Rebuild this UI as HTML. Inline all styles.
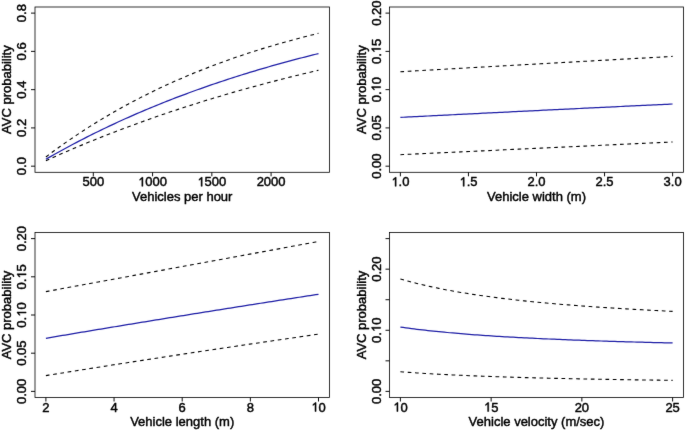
<!DOCTYPE html>
<html><head><meta charset="utf-8"><style>
html,body{margin:0;padding:0;background:#fff;}
body{width:685px;height:430px;overflow:hidden;}
svg{display:block;will-change:transform;}
text{font-family:"Liberation Sans", sans-serif;font-size:13.0px;fill:#000;stroke:#000;stroke-width:0.45px;stroke-linejoin:round;}
.h{fill:none;stroke:none;}
.one{fill:#000;stroke:#000;stroke-width:0.45px;stroke-linejoin:round;vector-effect:non-scaling-stroke;}
</style></head><body>
<svg width="685" height="430" viewBox="0 0 685 430">
<defs><filter id="soft" x="0" y="0" width="685" height="430" filterUnits="userSpaceOnUse" color-interpolation-filters="sRGB"><feConvolveMatrix order="3" kernelMatrix="0.01 0.05 0.01 0.05 0.76 0.05 0.01 0.05 0.01" edgeMode="duplicate"/></filter></defs>
<g filter="url(#soft)">
<rect x="0" y="0" width="685" height="430" fill="#fff"/>
<rect x="35.00" y="7.00" width="294.40" height="165.30" fill="none" stroke="#000" stroke-width="0.8"/>
<line x1="93.31" y1="172.30" x2="93.31" y2="176.30" stroke="#000" stroke-width="0.95"/>
<text x="0" y="0" transform="translate(93.31,186.30)" text-anchor="middle">500</text>
<line x1="152.57" y1="172.30" x2="152.57" y2="176.30" stroke="#000" stroke-width="0.95"/>
<g transform="translate(152.57,186.30)"><text x="0" y="0" text-anchor="middle"><tspan class="h">1</tspan>000</text><path class="one" transform="translate(-14.460,0) scale(0.006348,-0.006348)" d="M583,0 L583,1147 L254,936 L254,1110 Q470,1215 600,1409 L763,1409 L763,0 Z"/></g>
<line x1="211.83" y1="172.30" x2="211.83" y2="176.30" stroke="#000" stroke-width="0.95"/>
<g transform="translate(211.83,186.30)"><text x="0" y="0" text-anchor="middle"><tspan class="h">1</tspan>500</text><path class="one" transform="translate(-14.460,0) scale(0.006348,-0.006348)" d="M583,0 L583,1147 L254,936 L254,1110 Q470,1215 600,1409 L763,1409 L763,0 Z"/></g>
<line x1="271.09" y1="172.30" x2="271.09" y2="176.30" stroke="#000" stroke-width="0.95"/>
<text x="0" y="0" transform="translate(271.09,186.30)" text-anchor="middle">2000</text>
<line x1="31.00" y1="166.18" x2="35.00" y2="166.18" stroke="#000" stroke-width="0.95"/>
<text x="0" y="0" transform="translate(26.10,166.18) rotate(-90)" text-anchor="middle">0.0</text>
<line x1="31.00" y1="127.91" x2="35.00" y2="127.91" stroke="#000" stroke-width="0.95"/>
<text x="0" y="0" transform="translate(26.10,127.91) rotate(-90)" text-anchor="middle">0.2</text>
<line x1="31.00" y1="89.65" x2="35.00" y2="89.65" stroke="#000" stroke-width="0.95"/>
<text x="0" y="0" transform="translate(26.10,89.65) rotate(-90)" text-anchor="middle">0.4</text>
<line x1="31.00" y1="51.39" x2="35.00" y2="51.39" stroke="#000" stroke-width="0.95"/>
<text x="0" y="0" transform="translate(26.10,51.39) rotate(-90)" text-anchor="middle">0.6</text>
<line x1="31.00" y1="13.12" x2="35.00" y2="13.12" stroke="#000" stroke-width="0.95"/>
<text x="0" y="0" transform="translate(26.10,13.12) rotate(-90)" text-anchor="middle">0.8</text>
<text x="0" y="0" transform="translate(182.20,200.60)" text-anchor="middle">Vehicles per hour</text>
<text x="0" y="0" transform="translate(11.00,89.65) rotate(-90)" text-anchor="middle">AVC probability</text>
<path d="M45.90,156.96 L48.66,154.88 L51.41,152.82 L54.16,150.79 L56.92,148.79 L59.67,146.80 L62.42,144.84 L65.18,142.90 L67.93,140.98 L70.68,139.09 L73.44,137.21 L76.19,135.36 L78.95,133.53 L81.70,131.72 L84.45,129.93 L87.21,128.16 L89.96,126.41 L92.71,124.68 L95.47,122.97 L98.22,121.28 L100.97,119.61 L103.73,117.96 L106.48,116.32 L109.23,114.71 L111.99,113.11 L114.74,111.54 L117.49,109.98 L120.25,108.43 L123.00,106.91 L125.75,105.40 L128.51,103.91 L131.26,102.44 L134.01,100.99 L136.77,99.55 L139.52,98.12 L142.27,96.72 L145.03,95.33 L147.78,93.95 L150.54,92.59 L153.29,91.25 L156.04,89.92 L158.80,88.61 L161.55,87.31 L164.30,86.03 L167.06,84.76 L169.81,83.50 L172.56,82.26 L175.32,81.04 L178.07,79.83 L180.82,78.63 L183.58,77.44 L186.33,76.27 L189.08,75.12 L191.84,73.97 L194.59,72.84 L197.34,71.72 L200.10,70.62 L202.85,69.53 L205.60,68.45 L208.36,67.38 L211.11,66.32 L213.86,65.28 L216.62,64.25 L219.37,63.23 L222.13,62.22 L224.88,61.22 L227.63,60.24 L230.39,59.26 L233.14,58.30 L235.89,57.35 L238.65,56.40 L241.40,55.47 L244.15,54.55 L246.91,53.64 L249.66,52.75 L252.41,51.86 L255.17,50.98 L257.92,50.11 L260.67,49.25 L263.43,48.40 L266.18,47.56 L268.93,46.73 L271.69,45.91 L274.44,45.10 L277.19,44.30 L279.95,43.51 L282.70,42.72 L285.45,41.95 L288.21,41.18 L290.96,40.43 L293.72,39.68 L296.47,38.94 L299.22,38.21 L301.98,37.49 L304.73,36.77 L307.48,36.06 L310.24,35.37 L312.99,34.68 L315.74,33.99 L318.50,33.32" fill="none" stroke="#000" stroke-width="1.1" stroke-dasharray="3.7 3.63"/>
<path d="M45.90,160.71 L48.66,159.46 L51.41,158.22 L54.16,156.99 L56.92,155.77 L59.67,154.55 L62.42,153.35 L65.18,152.15 L67.93,150.96 L70.68,149.77 L73.44,148.60 L76.19,147.43 L78.95,146.27 L81.70,145.12 L84.45,143.98 L87.21,142.84 L89.96,141.72 L92.71,140.60 L95.47,139.48 L98.22,138.38 L100.97,137.28 L103.73,136.19 L106.48,135.11 L109.23,134.03 L111.99,132.96 L114.74,131.90 L117.49,130.85 L120.25,129.80 L123.00,128.76 L125.75,127.72 L128.51,126.70 L131.26,125.68 L134.01,124.67 L136.77,123.66 L139.52,122.66 L142.27,121.67 L145.03,120.68 L147.78,119.70 L150.54,118.73 L153.29,117.76 L156.04,116.80 L158.80,115.85 L161.55,114.90 L164.30,113.96 L167.06,113.03 L169.81,112.10 L172.56,111.18 L175.32,110.27 L178.07,109.36 L180.82,108.45 L183.58,107.56 L186.33,106.67 L189.08,105.78 L191.84,104.90 L194.59,104.03 L197.34,103.16 L200.10,102.30 L202.85,101.44 L205.60,100.59 L208.36,99.75 L211.11,98.91 L213.86,98.08 L216.62,97.25 L219.37,96.43 L222.13,95.61 L224.88,94.80 L227.63,94.00 L230.39,93.20 L233.14,92.40 L235.89,91.61 L238.65,90.83 L241.40,90.05 L244.15,89.28 L246.91,88.51 L249.66,87.74 L252.41,86.99 L255.17,86.23 L257.92,85.49 L260.67,84.74 L263.43,84.00 L266.18,83.27 L268.93,82.54 L271.69,81.82 L274.44,81.10 L277.19,80.39 L279.95,79.68 L282.70,78.98 L285.45,78.28 L288.21,77.58 L290.96,76.89 L293.72,76.21 L296.47,75.53 L299.22,74.85 L301.98,74.18 L304.73,73.51 L307.48,72.85 L310.24,72.19 L312.99,71.54 L315.74,70.89 L318.50,70.25" fill="none" stroke="#000" stroke-width="1.1" stroke-dasharray="3.7 3.63"/>
<path d="M45.90,159.23 L48.66,157.65 L51.41,156.09 L54.16,154.53 L56.92,153.00 L59.67,151.47 L62.42,149.96 L65.18,148.46 L67.93,146.98 L70.68,145.50 L73.44,144.04 L76.19,142.59 L78.95,141.16 L81.70,139.73 L84.45,138.32 L87.21,136.92 L89.96,135.54 L92.71,134.16 L95.47,132.80 L98.22,131.45 L100.97,130.11 L103.73,128.78 L106.48,127.46 L109.23,126.15 L111.99,124.86 L114.74,123.58 L117.49,122.30 L120.25,121.04 L123.00,119.79 L125.75,118.55 L128.51,117.32 L131.26,116.10 L134.01,114.89 L136.77,113.69 L139.52,112.50 L142.27,111.33 L145.03,110.16 L147.78,109.00 L150.54,107.85 L153.29,106.71 L156.04,105.58 L158.80,104.47 L161.55,103.36 L164.30,102.26 L167.06,101.17 L169.81,100.09 L172.56,99.01 L175.32,97.95 L178.07,96.90 L180.82,95.85 L183.58,94.82 L186.33,93.79 L189.08,92.77 L191.84,91.76 L194.59,90.76 L197.34,89.77 L200.10,88.79 L202.85,87.81 L205.60,86.84 L208.36,85.89 L211.11,84.94 L213.86,83.99 L216.62,83.06 L219.37,82.13 L222.13,81.22 L224.88,80.31 L227.63,79.40 L230.39,78.51 L233.14,77.62 L235.89,76.74 L238.65,75.87 L241.40,75.00 L244.15,74.15 L246.91,73.30 L249.66,72.46 L252.41,71.62 L255.17,70.79 L257.92,69.97 L260.67,69.16 L263.43,68.35 L266.18,67.55 L268.93,66.76 L271.69,65.97 L274.44,65.19 L277.19,64.42 L279.95,63.65 L282.70,62.89 L285.45,62.14 L288.21,61.39 L290.96,60.65 L293.72,59.91 L296.47,59.19 L299.22,58.46 L301.98,57.75 L304.73,57.04 L307.48,56.34 L310.24,55.64 L312.99,54.95 L315.74,54.26 L318.50,53.58" fill="none" stroke="#1e1ea6" stroke-width="1.25"/>
<rect x="389.50" y="7.00" width="294.00" height="165.30" fill="none" stroke="#000" stroke-width="0.8"/>
<line x1="400.39" y1="172.30" x2="400.39" y2="176.30" stroke="#000" stroke-width="0.95"/>
<g transform="translate(400.39,186.30)"><text x="0" y="0" text-anchor="middle"><tspan class="h">1</tspan>.0</text><path class="one" transform="translate(-9.036,0) scale(0.006348,-0.006348)" d="M583,0 L583,1147 L254,936 L254,1110 Q470,1215 600,1409 L763,1409 L763,0 Z"/></g>
<line x1="468.44" y1="172.30" x2="468.44" y2="176.30" stroke="#000" stroke-width="0.95"/>
<g transform="translate(468.44,186.30)"><text x="0" y="0" text-anchor="middle"><tspan class="h">1</tspan>.5</text><path class="one" transform="translate(-9.036,0) scale(0.006348,-0.006348)" d="M583,0 L583,1147 L254,936 L254,1110 Q470,1215 600,1409 L763,1409 L763,0 Z"/></g>
<line x1="536.50" y1="172.30" x2="536.50" y2="176.30" stroke="#000" stroke-width="0.95"/>
<text x="0" y="0" transform="translate(536.50,186.30)" text-anchor="middle">2.0</text>
<line x1="604.56" y1="172.30" x2="604.56" y2="176.30" stroke="#000" stroke-width="0.95"/>
<text x="0" y="0" transform="translate(604.56,186.30)" text-anchor="middle">2.5</text>
<line x1="672.61" y1="172.30" x2="672.61" y2="176.30" stroke="#000" stroke-width="0.95"/>
<text x="0" y="0" transform="translate(672.61,186.30)" text-anchor="middle">3.0</text>
<line x1="385.50" y1="166.18" x2="389.50" y2="166.18" stroke="#000" stroke-width="0.95"/>
<text x="0" y="0" transform="translate(380.60,166.18) rotate(-90)" text-anchor="middle">0.00</text>
<line x1="385.50" y1="127.91" x2="389.50" y2="127.91" stroke="#000" stroke-width="0.95"/>
<text x="0" y="0" transform="translate(380.60,127.91) rotate(-90)" text-anchor="middle">0.05</text>
<line x1="385.50" y1="89.65" x2="389.50" y2="89.65" stroke="#000" stroke-width="0.95"/>
<g transform="translate(380.60,89.65) rotate(-90)"><text x="0" y="0" text-anchor="middle">0.<tspan class="h">1</tspan>0</text><path class="one" transform="translate(-1.809,0) scale(0.006348,-0.006348)" d="M583,0 L583,1147 L254,936 L254,1110 Q470,1215 600,1409 L763,1409 L763,0 Z"/></g>
<line x1="385.50" y1="51.39" x2="389.50" y2="51.39" stroke="#000" stroke-width="0.95"/>
<g transform="translate(380.60,51.39) rotate(-90)"><text x="0" y="0" text-anchor="middle">0.<tspan class="h">1</tspan>5</text><path class="one" transform="translate(-1.809,0) scale(0.006348,-0.006348)" d="M583,0 L583,1147 L254,936 L254,1110 Q470,1215 600,1409 L763,1409 L763,0 Z"/></g>
<line x1="385.50" y1="13.12" x2="389.50" y2="13.12" stroke="#000" stroke-width="0.95"/>
<text x="0" y="0" transform="translate(380.60,13.12) rotate(-90)" text-anchor="middle">0.20</text>
<text x="0" y="0" transform="translate(536.50,200.60)" text-anchor="middle">Vehicle width (m)</text>
<text x="0" y="0" transform="translate(365.50,89.65) rotate(-90)" text-anchor="middle">AVC probability</text>
<path d="M400.39,71.74 L403.14,71.58 L405.89,71.42 L408.64,71.26 L411.39,71.11 L414.14,70.95 L416.89,70.79 L419.64,70.64 L422.39,70.48 L425.14,70.32 L427.89,70.16 L430.64,70.01 L433.39,69.85 L436.14,69.69 L438.88,69.54 L441.63,69.38 L444.38,69.22 L447.13,69.07 L449.88,68.91 L452.63,68.75 L455.38,68.60 L458.13,68.44 L460.88,68.28 L463.63,68.13 L466.38,67.97 L469.13,67.81 L471.88,67.66 L474.63,67.50 L477.38,67.35 L480.13,67.19 L482.88,67.03 L485.63,66.88 L488.38,66.72 L491.13,66.57 L493.88,66.41 L496.63,66.26 L499.38,66.10 L502.13,65.94 L504.88,65.79 L507.63,65.63 L510.38,65.48 L513.13,65.32 L515.88,65.17 L518.63,65.01 L521.38,64.86 L524.13,64.70 L526.88,64.55 L529.63,64.39 L532.38,64.24 L535.13,64.08 L537.87,63.93 L540.62,63.77 L543.37,63.62 L546.12,63.47 L548.87,63.31 L551.62,63.16 L554.37,63.00 L557.12,62.85 L559.87,62.69 L562.62,62.54 L565.37,62.39 L568.12,62.23 L570.87,62.08 L573.62,61.92 L576.37,61.77 L579.12,61.62 L581.87,61.46 L584.62,61.31 L587.37,61.16 L590.12,61.00 L592.87,60.85 L595.62,60.69 L598.37,60.54 L601.12,60.39 L603.87,60.23 L606.62,60.08 L609.37,59.93 L612.12,59.78 L614.87,59.62 L617.62,59.47 L620.37,59.32 L623.12,59.16 L625.87,59.01 L628.62,58.86 L631.37,58.71 L634.12,58.55 L636.86,58.40 L639.61,58.25 L642.36,58.10 L645.11,57.94 L647.86,57.79 L650.61,57.64 L653.36,57.49 L656.11,57.34 L658.86,57.18 L661.61,57.03 L664.36,56.88 L667.11,56.73 L669.86,56.58 L672.61,56.42" fill="none" stroke="#000" stroke-width="1.1" stroke-dasharray="3.7 3.63"/>
<path d="M400.39,154.69 L403.14,154.56 L405.89,154.43 L408.64,154.30 L411.39,154.18 L414.14,154.05 L416.89,153.92 L419.64,153.79 L422.39,153.66 L425.14,153.53 L427.89,153.41 L430.64,153.28 L433.39,153.15 L436.14,153.02 L438.88,152.89 L441.63,152.76 L444.38,152.63 L447.13,152.51 L449.88,152.38 L452.63,152.25 L455.38,152.12 L458.13,151.99 L460.88,151.86 L463.63,151.73 L466.38,151.61 L469.13,151.48 L471.88,151.35 L474.63,151.22 L477.38,151.09 L480.13,150.96 L482.88,150.83 L485.63,150.71 L488.38,150.58 L491.13,150.45 L493.88,150.32 L496.63,150.19 L499.38,150.06 L502.13,149.93 L504.88,149.81 L507.63,149.68 L510.38,149.55 L513.13,149.42 L515.88,149.29 L518.63,149.16 L521.38,149.03 L524.13,148.91 L526.88,148.78 L529.63,148.65 L532.38,148.52 L535.13,148.39 L537.87,148.26 L540.62,148.13 L543.37,148.01 L546.12,147.88 L548.87,147.75 L551.62,147.62 L554.37,147.49 L557.12,147.36 L559.87,147.23 L562.62,147.11 L565.37,146.98 L568.12,146.85 L570.87,146.72 L573.62,146.59 L576.37,146.46 L579.12,146.33 L581.87,146.21 L584.62,146.08 L587.37,145.95 L590.12,145.82 L592.87,145.69 L595.62,145.56 L598.37,145.43 L601.12,145.31 L603.87,145.18 L606.62,145.05 L609.37,144.92 L612.12,144.79 L614.87,144.66 L617.62,144.53 L620.37,144.41 L623.12,144.28 L625.87,144.15 L628.62,144.02 L631.37,143.89 L634.12,143.76 L636.86,143.63 L639.61,143.51 L642.36,143.38 L645.11,143.25 L647.86,143.12 L650.61,142.99 L653.36,142.86 L656.11,142.74 L658.86,142.61 L661.61,142.48 L664.36,142.35 L667.11,142.22 L669.86,142.09 L672.61,141.96" fill="none" stroke="#000" stroke-width="1.1" stroke-dasharray="3.7 3.63"/>
<path d="M400.39,117.39 L403.14,117.25 L405.89,117.11 L408.64,116.97 L411.39,116.83 L414.14,116.69 L416.89,116.55 L419.64,116.41 L422.39,116.28 L425.14,116.14 L427.89,116.00 L430.64,115.86 L433.39,115.72 L436.14,115.58 L438.88,115.44 L441.63,115.30 L444.38,115.17 L447.13,115.03 L449.88,114.89 L452.63,114.75 L455.38,114.61 L458.13,114.47 L460.88,114.34 L463.63,114.20 L466.38,114.06 L469.13,113.92 L471.88,113.79 L474.63,113.65 L477.38,113.51 L480.13,113.37 L482.88,113.24 L485.63,113.10 L488.38,112.96 L491.13,112.83 L493.88,112.69 L496.63,112.55 L499.38,112.42 L502.13,112.28 L504.88,112.14 L507.63,112.01 L510.38,111.87 L513.13,111.73 L515.88,111.60 L518.63,111.46 L521.38,111.33 L524.13,111.19 L526.88,111.06 L529.63,110.92 L532.38,110.78 L535.13,110.65 L537.87,110.51 L540.62,110.38 L543.37,110.24 L546.12,110.11 L548.87,109.97 L551.62,109.84 L554.37,109.70 L557.12,109.57 L559.87,109.43 L562.62,109.30 L565.37,109.17 L568.12,109.03 L570.87,108.90 L573.62,108.76 L576.37,108.63 L579.12,108.50 L581.87,108.36 L584.62,108.23 L587.37,108.09 L590.12,107.96 L592.87,107.83 L595.62,107.69 L598.37,107.56 L601.12,107.43 L603.87,107.29 L606.62,107.16 L609.37,107.03 L612.12,106.90 L614.87,106.76 L617.62,106.63 L620.37,106.50 L623.12,106.37 L625.87,106.23 L628.62,106.10 L631.37,105.97 L634.12,105.84 L636.86,105.70 L639.61,105.57 L642.36,105.44 L645.11,105.31 L647.86,105.18 L650.61,105.05 L653.36,104.92 L656.11,104.78 L658.86,104.65 L661.61,104.52 L664.36,104.39 L667.11,104.26 L669.86,104.13 L672.61,104.00" fill="none" stroke="#1e1ea6" stroke-width="1.25"/>
<rect x="35.00" y="232.50" width="294.40" height="165.00" fill="none" stroke="#000" stroke-width="0.8"/>
<line x1="45.90" y1="397.50" x2="45.90" y2="401.50" stroke="#000" stroke-width="0.95"/>
<text x="0" y="0" transform="translate(45.90,411.50)" text-anchor="middle">2</text>
<line x1="114.05" y1="397.50" x2="114.05" y2="401.50" stroke="#000" stroke-width="0.95"/>
<text x="0" y="0" transform="translate(114.05,411.50)" text-anchor="middle">4</text>
<line x1="182.20" y1="397.50" x2="182.20" y2="401.50" stroke="#000" stroke-width="0.95"/>
<text x="0" y="0" transform="translate(182.20,411.50)" text-anchor="middle">6</text>
<line x1="250.35" y1="397.50" x2="250.35" y2="401.50" stroke="#000" stroke-width="0.95"/>
<text x="0" y="0" transform="translate(250.35,411.50)" text-anchor="middle">8</text>
<line x1="318.50" y1="397.50" x2="318.50" y2="401.50" stroke="#000" stroke-width="0.95"/>
<g transform="translate(318.50,411.50)"><text x="0" y="0" text-anchor="middle"><tspan class="h">1</tspan>0</text><path class="one" transform="translate(-7.230,0) scale(0.006348,-0.006348)" d="M583,0 L583,1147 L254,936 L254,1110 Q470,1215 600,1409 L763,1409 L763,0 Z"/></g>
<line x1="31.00" y1="391.39" x2="35.00" y2="391.39" stroke="#000" stroke-width="0.95"/>
<text x="0" y="0" transform="translate(26.10,391.39) rotate(-90)" text-anchor="middle">0.00</text>
<line x1="31.00" y1="353.19" x2="35.00" y2="353.19" stroke="#000" stroke-width="0.95"/>
<text x="0" y="0" transform="translate(26.10,353.19) rotate(-90)" text-anchor="middle">0.05</text>
<line x1="31.00" y1="315.00" x2="35.00" y2="315.00" stroke="#000" stroke-width="0.95"/>
<g transform="translate(26.10,315.00) rotate(-90)"><text x="0" y="0" text-anchor="middle">0.<tspan class="h">1</tspan>0</text><path class="one" transform="translate(-1.809,0) scale(0.006348,-0.006348)" d="M583,0 L583,1147 L254,936 L254,1110 Q470,1215 600,1409 L763,1409 L763,0 Z"/></g>
<line x1="31.00" y1="276.81" x2="35.00" y2="276.81" stroke="#000" stroke-width="0.95"/>
<g transform="translate(26.10,276.81) rotate(-90)"><text x="0" y="0" text-anchor="middle">0.<tspan class="h">1</tspan>5</text><path class="one" transform="translate(-1.809,0) scale(0.006348,-0.006348)" d="M583,0 L583,1147 L254,936 L254,1110 Q470,1215 600,1409 L763,1409 L763,0 Z"/></g>
<line x1="31.00" y1="238.61" x2="35.00" y2="238.61" stroke="#000" stroke-width="0.95"/>
<text x="0" y="0" transform="translate(26.10,238.61) rotate(-90)" text-anchor="middle">0.20</text>
<text x="0" y="0" transform="translate(182.20,425.80)" text-anchor="middle">Vehicle length (m)</text>
<text x="0" y="0" transform="translate(11.00,315.00) rotate(-90)" text-anchor="middle">AVC probability</text>
<path d="M45.90,291.61 L48.66,291.10 L51.41,290.59 L54.16,290.09 L56.92,289.58 L59.67,289.07 L62.42,288.57 L65.18,288.06 L67.93,287.56 L70.68,287.05 L73.44,286.54 L76.19,286.04 L78.95,285.53 L81.70,285.03 L84.45,284.52 L87.21,284.01 L89.96,283.51 L92.71,283.00 L95.47,282.50 L98.22,281.99 L100.97,281.48 L103.73,280.98 L106.48,280.47 L109.23,279.96 L111.99,279.46 L114.74,278.95 L117.49,278.45 L120.25,277.94 L123.00,277.43 L125.75,276.93 L128.51,276.42 L131.26,275.92 L134.01,275.41 L136.77,274.90 L139.52,274.40 L142.27,273.89 L145.03,273.38 L147.78,272.88 L150.54,272.37 L153.29,271.87 L156.04,271.36 L158.80,270.85 L161.55,270.35 L164.30,269.84 L167.06,269.34 L169.81,268.83 L172.56,268.32 L175.32,267.82 L178.07,267.31 L180.82,266.81 L183.58,266.30 L186.33,265.79 L189.08,265.29 L191.84,264.78 L194.59,264.27 L197.34,263.77 L200.10,263.26 L202.85,262.76 L205.60,262.25 L208.36,261.74 L211.11,261.24 L213.86,260.73 L216.62,260.23 L219.37,259.72 L222.13,259.21 L224.88,258.71 L227.63,258.20 L230.39,257.70 L233.14,257.19 L235.89,256.68 L238.65,256.18 L241.40,255.67 L244.15,255.16 L246.91,254.66 L249.66,254.15 L252.41,253.65 L255.17,253.14 L257.92,252.63 L260.67,252.13 L263.43,251.62 L266.18,251.12 L268.93,250.61 L271.69,250.10 L274.44,249.60 L277.19,249.09 L279.95,248.59 L282.70,248.08 L285.45,247.57 L288.21,247.07 L290.96,246.56 L293.72,246.05 L296.47,245.55 L299.22,245.04 L301.98,244.54 L304.73,244.03 L307.48,243.52 L310.24,243.02 L312.99,242.51 L315.74,242.01 L318.50,241.50" fill="none" stroke="#000" stroke-width="1.1" stroke-dasharray="3.7 3.63"/>
<path d="M45.90,375.59 L48.66,375.15 L51.41,374.70 L54.16,374.26 L56.92,373.82 L59.67,373.38 L62.42,372.94 L65.18,372.50 L67.93,372.06 L70.68,371.62 L73.44,371.18 L76.19,370.74 L78.95,370.30 L81.70,369.86 L84.45,369.42 L87.21,368.99 L89.96,368.55 L92.71,368.12 L95.47,367.68 L98.22,367.25 L100.97,366.81 L103.73,366.38 L106.48,365.95 L109.23,365.52 L111.99,365.08 L114.74,364.65 L117.49,364.22 L120.25,363.79 L123.00,363.36 L125.75,362.93 L128.51,362.50 L131.26,362.08 L134.01,361.65 L136.77,361.22 L139.52,360.79 L142.27,360.37 L145.03,359.94 L147.78,359.52 L150.54,359.09 L153.29,358.67 L156.04,358.25 L158.80,357.82 L161.55,357.40 L164.30,356.98 L167.06,356.56 L169.81,356.14 L172.56,355.72 L175.32,355.30 L178.07,354.88 L180.82,354.46 L183.58,354.04 L186.33,353.62 L189.08,353.21 L191.84,352.79 L194.59,352.37 L197.34,351.96 L200.10,351.54 L202.85,351.13 L205.60,350.71 L208.36,350.30 L211.11,349.89 L213.86,349.47 L216.62,349.06 L219.37,348.65 L222.13,348.24 L224.88,347.83 L227.63,347.42 L230.39,347.01 L233.14,346.60 L235.89,346.19 L238.65,345.79 L241.40,345.38 L244.15,344.97 L246.91,344.57 L249.66,344.16 L252.41,343.76 L255.17,343.35 L257.92,342.95 L260.67,342.54 L263.43,342.14 L266.18,341.74 L268.93,341.34 L271.69,340.93 L274.44,340.53 L277.19,340.13 L279.95,339.73 L282.70,339.33 L285.45,338.94 L288.21,338.54 L290.96,338.14 L293.72,337.74 L296.47,337.35 L299.22,336.95 L301.98,336.55 L304.73,336.16 L307.48,335.76 L310.24,335.37 L312.99,334.98 L315.74,334.58 L318.50,334.19" fill="none" stroke="#000" stroke-width="1.1" stroke-dasharray="3.7 3.63"/>
<path d="M45.90,338.26 L48.66,337.80 L51.41,337.33 L54.16,336.87 L56.92,336.40 L59.67,335.94 L62.42,335.48 L65.18,335.01 L67.93,334.55 L70.68,334.09 L73.44,333.63 L76.19,333.16 L78.95,332.70 L81.70,332.24 L84.45,331.78 L87.21,331.32 L89.96,330.86 L92.71,330.41 L95.47,329.95 L98.22,329.49 L100.97,329.03 L103.73,328.57 L106.48,328.12 L109.23,327.66 L111.99,327.21 L114.74,326.75 L117.49,326.30 L120.25,325.84 L123.00,325.39 L125.75,324.94 L128.51,324.48 L131.26,324.03 L134.01,323.58 L136.77,323.13 L139.52,322.67 L142.27,322.22 L145.03,321.77 L147.78,321.32 L150.54,320.87 L153.29,320.42 L156.04,319.98 L158.80,319.53 L161.55,319.08 L164.30,318.63 L167.06,318.19 L169.81,317.74 L172.56,317.29 L175.32,316.85 L178.07,316.40 L180.82,315.96 L183.58,315.51 L186.33,315.07 L189.08,314.63 L191.84,314.18 L194.59,313.74 L197.34,313.30 L200.10,312.86 L202.85,312.42 L205.60,311.98 L208.36,311.54 L211.11,311.10 L213.86,310.66 L216.62,310.22 L219.37,309.78 L222.13,309.34 L224.88,308.90 L227.63,308.47 L230.39,308.03 L233.14,307.59 L235.89,307.16 L238.65,306.72 L241.40,306.29 L244.15,305.85 L246.91,305.42 L249.66,304.98 L252.41,304.55 L255.17,304.12 L257.92,303.69 L260.67,303.25 L263.43,302.82 L266.18,302.39 L268.93,301.96 L271.69,301.53 L274.44,301.10 L277.19,300.67 L279.95,300.24 L282.70,299.81 L285.45,299.39 L288.21,298.96 L290.96,298.53 L293.72,298.11 L296.47,297.68 L299.22,297.25 L301.98,296.83 L304.73,296.40 L307.48,295.98 L310.24,295.55 L312.99,295.13 L315.74,294.71 L318.50,294.28" fill="none" stroke="#1e1ea6" stroke-width="1.25"/>
<rect x="389.50" y="232.50" width="294.00" height="165.00" fill="none" stroke="#000" stroke-width="0.8"/>
<line x1="400.39" y1="397.50" x2="400.39" y2="401.50" stroke="#000" stroke-width="0.95"/>
<g transform="translate(400.39,411.50)"><text x="0" y="0" text-anchor="middle"><tspan class="h">1</tspan>0</text><path class="one" transform="translate(-7.230,0) scale(0.006348,-0.006348)" d="M583,0 L583,1147 L254,936 L254,1110 Q470,1215 600,1409 L763,1409 L763,0 Z"/></g>
<line x1="491.13" y1="397.50" x2="491.13" y2="401.50" stroke="#000" stroke-width="0.95"/>
<g transform="translate(491.13,411.50)"><text x="0" y="0" text-anchor="middle"><tspan class="h">1</tspan>5</text><path class="one" transform="translate(-7.230,0) scale(0.006348,-0.006348)" d="M583,0 L583,1147 L254,936 L254,1110 Q470,1215 600,1409 L763,1409 L763,0 Z"/></g>
<line x1="581.87" y1="397.50" x2="581.87" y2="401.50" stroke="#000" stroke-width="0.95"/>
<text x="0" y="0" transform="translate(581.87,411.50)" text-anchor="middle">20</text>
<line x1="672.61" y1="397.50" x2="672.61" y2="401.50" stroke="#000" stroke-width="0.95"/>
<text x="0" y="0" transform="translate(672.61,411.50)" text-anchor="middle">25</text>
<line x1="385.50" y1="391.39" x2="389.50" y2="391.39" stroke="#000" stroke-width="0.95"/>
<text x="0" y="0" transform="translate(380.60,391.39) rotate(-90)" text-anchor="middle">0.00</text>
<line x1="385.50" y1="360.83" x2="389.50" y2="360.83" stroke="#000" stroke-width="0.95"/>
<line x1="385.50" y1="330.28" x2="389.50" y2="330.28" stroke="#000" stroke-width="0.95"/>
<g transform="translate(380.60,330.28) rotate(-90)"><text x="0" y="0" text-anchor="middle">0.<tspan class="h">1</tspan>0</text><path class="one" transform="translate(-1.809,0) scale(0.006348,-0.006348)" d="M583,0 L583,1147 L254,936 L254,1110 Q470,1215 600,1409 L763,1409 L763,0 Z"/></g>
<line x1="385.50" y1="299.72" x2="389.50" y2="299.72" stroke="#000" stroke-width="0.95"/>
<line x1="385.50" y1="269.17" x2="389.50" y2="269.17" stroke="#000" stroke-width="0.95"/>
<text x="0" y="0" transform="translate(380.60,269.17) rotate(-90)" text-anchor="middle">0.20</text>
<line x1="385.50" y1="238.61" x2="389.50" y2="238.61" stroke="#000" stroke-width="0.95"/>
<text x="0" y="0" transform="translate(536.50,425.80)" text-anchor="middle">Vehicle velocity (m/sec)</text>
<text x="0" y="0" transform="translate(365.50,315.00) rotate(-90)" text-anchor="middle">AVC probability</text>
<path d="M400.39,278.92 L403.14,279.73 L405.89,280.51 L408.64,281.27 L411.39,282.01 L414.14,282.73 L416.89,283.43 L419.64,284.11 L422.39,284.77 L425.14,285.41 L427.89,286.03 L430.64,286.64 L433.39,287.24 L436.14,287.82 L438.88,288.38 L441.63,288.93 L444.38,289.47 L447.13,289.99 L449.88,290.50 L452.63,291.00 L455.38,291.49 L458.13,291.97 L460.88,292.43 L463.63,292.89 L466.38,293.33 L469.13,293.77 L471.88,294.20 L474.63,294.61 L477.38,295.02 L480.13,295.42 L482.88,295.81 L485.63,296.19 L488.38,296.57 L491.13,296.94 L493.88,297.30 L496.63,297.65 L499.38,298.00 L502.13,298.33 L504.88,298.67 L507.63,298.99 L510.38,299.31 L513.13,299.63 L515.88,299.94 L518.63,300.24 L521.38,300.54 L524.13,300.83 L526.88,301.12 L529.63,301.40 L532.38,301.68 L535.13,301.95 L537.87,302.22 L540.62,302.48 L543.37,302.74 L546.12,302.99 L548.87,303.24 L551.62,303.49 L554.37,303.73 L557.12,303.97 L559.87,304.20 L562.62,304.43 L565.37,304.66 L568.12,304.88 L570.87,305.10 L573.62,305.31 L576.37,305.53 L579.12,305.74 L581.87,305.94 L584.62,306.15 L587.37,306.35 L590.12,306.54 L592.87,306.74 L595.62,306.93 L598.37,307.12 L601.12,307.30 L603.87,307.49 L606.62,307.67 L609.37,307.84 L612.12,308.02 L614.87,308.19 L617.62,308.36 L620.37,308.53 L623.12,308.70 L625.87,308.86 L628.62,309.02 L631.37,309.18 L634.12,309.34 L636.86,309.50 L639.61,309.65 L642.36,309.80 L645.11,309.95 L647.86,310.10 L650.61,310.24 L653.36,310.39 L656.11,310.53 L658.86,310.67 L661.61,310.81 L664.36,310.95 L667.11,311.08 L669.86,311.21 L672.61,311.35" fill="none" stroke="#000" stroke-width="1.1" stroke-dasharray="3.7 3.63"/>
<path d="M400.39,371.73 L403.14,371.94 L405.89,372.15 L408.64,372.35 L411.39,372.55 L414.14,372.74 L416.89,372.93 L419.64,373.11 L422.39,373.28 L425.14,373.45 L427.89,373.62 L430.64,373.78 L433.39,373.94 L436.14,374.09 L438.88,374.24 L441.63,374.39 L444.38,374.53 L447.13,374.67 L449.88,374.81 L452.63,374.94 L455.38,375.07 L458.13,375.20 L460.88,375.32 L463.63,375.44 L466.38,375.56 L469.13,375.68 L471.88,375.79 L474.63,375.90 L477.38,376.01 L480.13,376.12 L482.88,376.22 L485.63,376.32 L488.38,376.42 L491.13,376.52 L493.88,376.62 L496.63,376.71 L499.38,376.80 L502.13,376.89 L504.88,376.98 L507.63,377.07 L510.38,377.15 L513.13,377.24 L515.88,377.32 L518.63,377.40 L521.38,377.48 L524.13,377.56 L526.88,377.63 L529.63,377.71 L532.38,377.78 L535.13,377.85 L537.87,377.92 L540.62,377.99 L543.37,378.06 L546.12,378.13 L548.87,378.20 L551.62,378.26 L554.37,378.33 L557.12,378.39 L559.87,378.45 L562.62,378.51 L565.37,378.57 L568.12,378.63 L570.87,378.69 L573.62,378.75 L576.37,378.80 L579.12,378.86 L581.87,378.92 L584.62,378.97 L587.37,379.02 L590.12,379.07 L592.87,379.13 L595.62,379.18 L598.37,379.23 L601.12,379.28 L603.87,379.33 L606.62,379.37 L609.37,379.42 L612.12,379.47 L614.87,379.51 L617.62,379.56 L620.37,379.60 L623.12,379.65 L625.87,379.69 L628.62,379.73 L631.37,379.78 L634.12,379.82 L636.86,379.86 L639.61,379.90 L642.36,379.94 L645.11,379.98 L647.86,380.02 L650.61,380.06 L653.36,380.10 L656.11,380.14 L658.86,380.17 L661.61,380.21 L664.36,380.25 L667.11,380.28 L669.86,380.32 L672.61,380.35" fill="none" stroke="#000" stroke-width="1.1" stroke-dasharray="3.7 3.63"/>
<path d="M400.39,327.06 L403.14,327.46 L405.89,327.84 L408.64,328.21 L411.39,328.58 L414.14,328.93 L416.89,329.27 L419.64,329.60 L422.39,329.93 L425.14,330.24 L427.89,330.55 L430.64,330.85 L433.39,331.14 L436.14,331.43 L438.88,331.70 L441.63,331.97 L444.38,332.24 L447.13,332.50 L449.88,332.75 L452.63,332.99 L455.38,333.23 L458.13,333.47 L460.88,333.70 L463.63,333.92 L466.38,334.14 L469.13,334.35 L471.88,334.56 L474.63,334.77 L477.38,334.97 L480.13,335.16 L482.88,335.35 L485.63,335.54 L488.38,335.73 L491.13,335.91 L493.88,336.08 L496.63,336.26 L499.38,336.43 L502.13,336.59 L504.88,336.76 L507.63,336.92 L510.38,337.08 L513.13,337.23 L515.88,337.38 L518.63,337.53 L521.38,337.68 L524.13,337.82 L526.88,337.96 L529.63,338.10 L532.38,338.23 L535.13,338.37 L537.87,338.50 L540.62,338.63 L543.37,338.76 L546.12,338.88 L548.87,339.00 L551.62,339.12 L554.37,339.24 L557.12,339.36 L559.87,339.47 L562.62,339.59 L565.37,339.70 L568.12,339.81 L570.87,339.92 L573.62,340.02 L576.37,340.13 L579.12,340.23 L581.87,340.33 L584.62,340.43 L587.37,340.53 L590.12,340.62 L592.87,340.72 L595.62,340.81 L598.37,340.91 L601.12,341.00 L603.87,341.09 L606.62,341.18 L609.37,341.26 L612.12,341.35 L614.87,341.44 L617.62,341.52 L620.37,341.60 L623.12,341.68 L625.87,341.76 L628.62,341.84 L631.37,341.92 L634.12,342.00 L636.86,342.08 L639.61,342.15 L642.36,342.23 L645.11,342.30 L647.86,342.37 L650.61,342.44 L653.36,342.51 L656.11,342.58 L658.86,342.65 L661.61,342.72 L664.36,342.79 L667.11,342.85 L669.86,342.92 L672.61,342.98" fill="none" stroke="#1e1ea6" stroke-width="1.25"/>
</g>
</svg>
</body></html>
